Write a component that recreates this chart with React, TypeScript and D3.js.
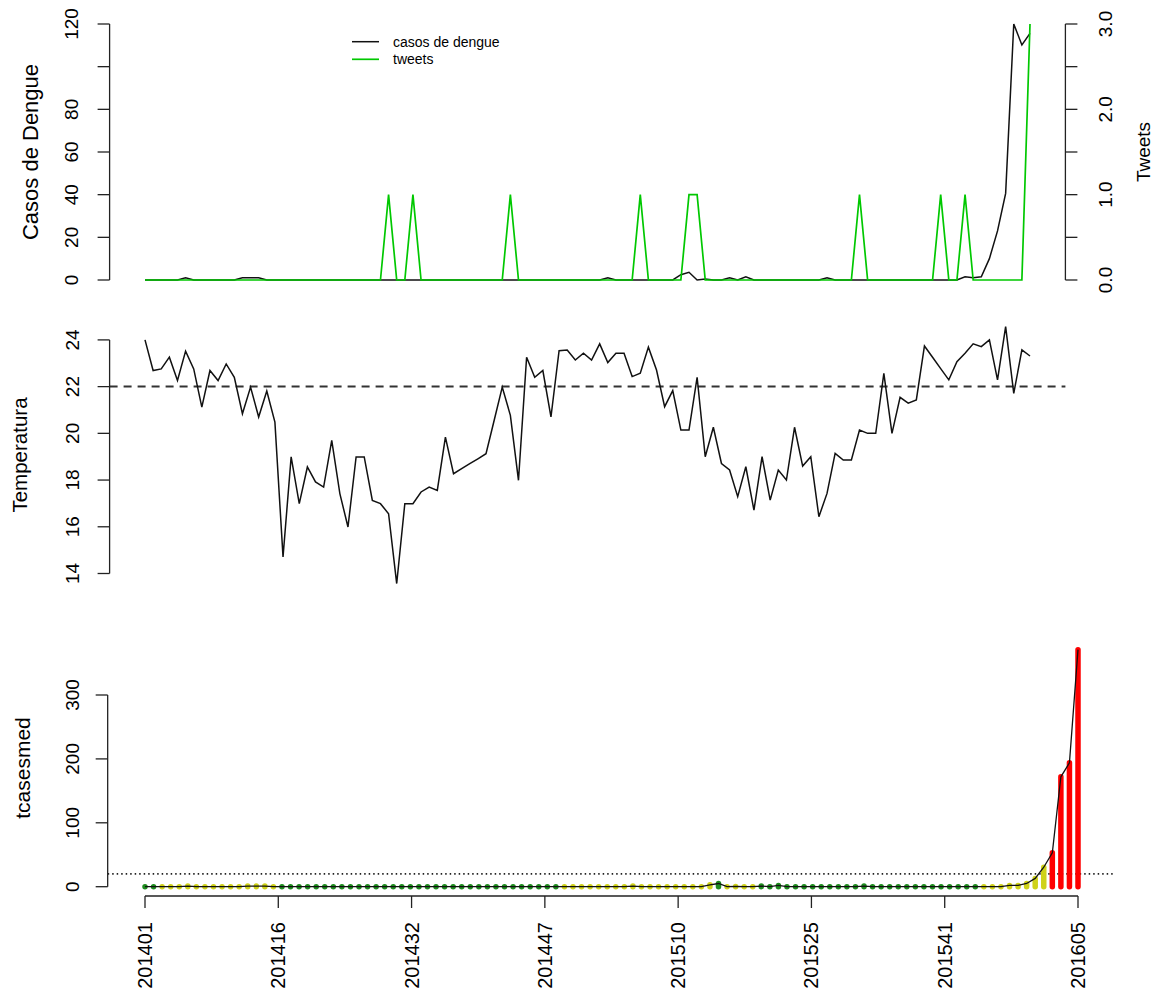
import React from "react";
import * as d3 from "d3";

// ---------- data ----------
const weekTickLabels = ["201401", "201416", "201432", "201447", "201510", "201525", "201541", "201605"];

const casosDengue = [
  0, 0, 0, 0, 0, 1, 0, 0, 0, 0,
  0, 0, 1, 1, 1, 0, 0, 0, 0, 0,
  0, 0, 0, 0, 0, 0, 0, 0, 0, 0,
  0, 0, 0, 0, 0, 0, 0, 0, 0, 0,
  0, 0, 0, 0, 0, 0, 0, 0, 0, 0,
  0, 0, 0, 0, 0, 0, 0, 1, 0, 0,
  0, 0, 0, 0, 0, 0, 2.5, 3.6, 0, 0.5,
  0, 0, 1, 0, 1.5, 0, 0, 0, 0, 0,
  0, 0, 0, 0, 1, 0, 0, 0, 0, 0,
  0, 0, 0, 0, 0, 0, 0, 0, 0, 0,
  0, 1.5, 1, 1.5, 10, 23, 40.6, 120, 110.2, 115.6,
];

const tweets = [
  0, 0, 0, 0, 0, 0, 0, 0, 0, 0,
  0, 0, 0, 0, 0, 0, 0, 0, 0, 0,
  0, 0, 0, 0, 0, 0, 0, 0, 0, 0,
  1, 0, 0, 1, 0, 0, 0, 0, 0, 0,
  0, 0, 0, 0, 0, 1, 0, 0, 0, 0,
  0, 0, 0, 0, 0, 0, 0, 0, 0, 0,
  0, 1, 0, 0, 0, 0, 0, 1, 1, 0,
  0, 0, 0, 0, 0, 0, 0, 0, 0, 0,
  0, 0, 0, 0, 0, 0, 0, 0, 1, 0,
  0, 0, 0, 0, 0, 0, 0, 0, 1, 0,
  0, 1, 0, 0, 0, 0, 0, 0, 0, 3,
];

const temperatura = [
  24.0, 22.69, 22.76, 23.26, 22.26, 23.52, 22.76, 21.12, 22.69, 22.26,
  22.97, 22.4, 20.84, 21.98, 20.7, 21.81, 20.48, 14.71, 18.99, 16.99,
  18.56, 17.92, 17.7, 19.7, 17.42, 15.99, 18.99, 18.99, 17.13, 16.99,
  16.56, 13.57, 16.99, 16.99, 17.49, 17.7, 17.56, 19.84, 18.27, 18.49,
  18.7, 18.91, 19.13, 20.55, 21.98, 20.77, 17.99, 23.26, 22.4, 22.69,
  20.7, 23.54, 23.57, 23.14, 23.43, 23.14, 23.83, 23.03, 23.43, 23.43,
  22.43, 22.57, 23.69, 22.71, 21.14, 21.83, 20.14, 20.14, 22.4, 19.0,
  20.26, 18.71, 18.43, 17.29, 18.57, 16.71, 19.0, 17.14, 18.43, 18.0,
  20.26, 18.6, 19.0, 16.43, 17.43, 19.14, 18.86, 18.86, 20.14, 20.0,
  20.0, 22.57, 20.0, 21.54, 21.29, 21.43, 23.74, 23.26, 22.77, 22.29,
  23.07, 23.43, 23.83, 23.71, 24.0, 22.29, 24.57, 21.71, 23.57, 23.31,
];

const tcasesmed = [
  0, 0, 0, 0, 0, 1, 0, 0, 0, 0,
  0, 0, 1, 1, 1, 0, 0, 0, 0, 0,
  0, 0, 0, 0, 0, 0, 0, 0, 0, 0,
  0, 0, 0, 0, 0, 0, 0, 0, 0, 0,
  0, 0, 0, 0, 0, 0, 0, 0, 0, 0,
  0, 0, 0, 0, 0, 0, 0, 1, 0, 0,
  0, 0, 0, 0, 0, 0, 3, 5, 0, 0.5,
  0, 0, 1, 0, 2, 0, 0, 0, 0, 0,
  0, 0, 0, 0, 1, 0, 0, 0, 0, 0,
  0, 0, 0, 0, 0, 0, 0, 0, 0, 0,
  0, 2, 2, 5, 13, 30.5, 53, 172, 194, 371,
];

// alert level per week: 1 = green, 2 = yellow, 4 = red
const alertLevel = [
  1, 1, 2, 2, 2, 2, 2, 2, 2, 2,
  2, 2, 2, 2, 2, 2, 1, 1, 1, 1,
  1, 1, 1, 1, 1, 1, 1, 1, 1, 1,
  1, 1, 1, 1, 1, 1, 1, 1, 1, 1,
  1, 1, 1, 1, 1, 1, 1, 1, 1, 2,
  2, 2, 2, 2, 2, 2, 2, 2, 2, 2,
  2, 2, 2, 2, 2, 2, 2, 1, 2, 2,
  2, 2, 1, 1, 1, 1, 1, 1, 1, 1,
  1, 1, 1, 1, 1, 1, 1, 1, 1, 1,
  1, 1, 1, 1, 1, 1, 1, 1, 2, 2,
  2, 2, 2, 2, 2, 2, 4, 4, 4, 4,
];

const casesTicks = [0, 20, 40, 60, 80, 100, 120];
const casesTickLabels = ["0", "20", "40", "60", "80", "", "120"];
const tweetTicks = [0, 0.5, 1, 1.5, 2, 2.5, 3];
const tweetTickLabels = ["0.0", "", "1.0", "", "2.0", "", "3.0"];
const tempTicks = [14, 16, 18, 20, 22, 24];
const tcasesTicks = [0, 100, 200, 300];
const tempReference = 22;
const alertThreshold = 20;

const alertColors: Record<number, string> = { 1: "#1E8C1E", 2: "#CFD21A", 4: "#FF0000" };
const tweetColor = "#00C800";

// ---------- layout ----------
const W = 1154;
const H = 996;
const FONT = "'Liberation Sans', Arial, Helvetica, sans-serif";
const FS = 19;
const TICK = 12;

export default function App() {
  const N = casosDengue.length;
  const ids = d3.range(N);

  const xTop = d3.scaleLinear().domain([0, N - 1]).range([145, 1030]);
  const xBot = d3.scaleLinear().domain([0, N - 1]).range([145, 1078]);
  const topLeft = xTop(-0.04 * (N - 1));
  const topRight = xTop((N - 1) * 1.04);
  const botLeft = xBot(-0.04 * (N - 1));
  const botRight = xBot((N - 1) * 1.04);

  const yCases = d3.scaleLinear().domain([0, 120]).range([280, 24]);
  const yTweets = d3.scaleLinear().domain([0, 3]).range([280, 24]);
  const yTemp = d3.scaleLinear().domain([14, 24]).range([573.5, 339.9]);
  const yBot = d3.scaleLinear().domain([0, 300]).range([886.7, 695]);

  const lineCases = d3.line<number>().x((_, i) => xTop(i)).y((d) => yCases(d));
  const lineTweets = d3.line<number>().x((_, i) => xTop(i)).y((d) => yTweets(d));
  const lineTemp = d3.line<number>().x((_, i) => xTop(i)).y((d) => yTemp(d));
  const lineBot = d3.line<number>().x((_, i) => xBot(i)).y((d) => yBot(d));

  const axisStroke = "#222";
  const axisW = 1.3;

  const leftAxis = (
    x: number,
    scale: d3.ScaleLinear<number, number>,
    ticks: number[],
    labels: string[],
    labelBaseline: number
  ) => (
    <g>
      <line x1={x} x2={x} y1={scale(ticks[0])} y2={scale(ticks[ticks.length - 1])} stroke={axisStroke} strokeWidth={axisW} />
      {ticks.map((t, i) => (
        <g key={i}>
          <line x1={x - TICK} x2={x} y1={scale(t)} y2={scale(t)} stroke={axisStroke} strokeWidth={axisW} />
          {labels[i] !== "" && (
            <text
              transform={`translate(${labelBaseline},${scale(t)}) rotate(-90)`}
              textAnchor="middle"
              fontSize={FS}
              fontFamily={FONT}
              fill="#000"
            >
              {labels[i]}
            </text>
          )}
        </g>
      ))}
    </g>
  );

  const xTickPos = weekTickLabels.map((_, k) => (k * (N - 1)) / (weekTickLabels.length - 1));

  return (
    <svg width={W} height={H} style={{ position: "absolute", left: 0, top: 0, background: "#fff" }}>
      <rect x={0} y={0} width={W} height={H} fill="#fff" />

      {/* ---------- top panel ---------- */}
      <path d={lineCases(casosDengue) || ""} fill="none" stroke="#111" strokeWidth={1.5} />
      <path d={lineTweets(tweets) || ""} fill="none" stroke={tweetColor} strokeWidth={1.7} />
      {leftAxis(topLeft, yCases, casesTicks, casesTickLabels, 78)}
      <text transform={`translate(38,152) rotate(-90)`} textAnchor="middle" fontSize={22} fontFamily={FONT}>
        Casos de Dengue
      </text>
      {/* right axis */}
      <g>
        <line x1={topRight} x2={topRight} y1={yTweets(0)} y2={yTweets(3)} stroke={axisStroke} strokeWidth={axisW} />
        {tweetTicks.map((t, i) => (
          <g key={i}>
            <line x1={topRight} x2={topRight + TICK} y1={yTweets(t)} y2={yTweets(t)} stroke={axisStroke} strokeWidth={axisW} />
            {tweetTickLabels[i] !== "" && (
              <text
                transform={`translate(1112,${yTweets(t)}) rotate(-90)`}
                textAnchor="middle"
                fontSize={FS}
                fontFamily={FONT}
              >
                {tweetTickLabels[i]}
              </text>
            )}
          </g>
        ))}
        <text transform={`translate(1150,152) rotate(-90)`} textAnchor="middle" fontSize={FS} fontFamily={FONT}>
          Tweets
        </text>
      </g>
      {/* legend */}
      <g fontFamily={FONT} fontSize={14}>
        <line x1={352} x2={379} y1={41.7} y2={41.7} stroke="#111" strokeWidth={1.5} />
        <text x={393} y={41.7} dominantBaseline="central">casos de dengue</text>
        <line x1={352} x2={379} y1={59.3} y2={59.3} stroke={tweetColor} strokeWidth={1.7} />
        <text x={393} y={59.3} dominantBaseline="central">tweets</text>
      </g>

      {/* ---------- middle panel ---------- */}
      <line
        x1={topLeft}
        x2={topRight}
        y1={yTemp(tempReference)}
        y2={yTemp(tempReference)}
        stroke="#333"
        strokeWidth={2}
        strokeDasharray="8,6"
      />
      <path d={lineTemp(temperatura) || ""} fill="none" stroke="#111" strokeWidth={1.5} />
      {leftAxis(topLeft, yTemp, tempTicks, tempTicks.map(String), 79)}
      <text transform={`translate(27,455) rotate(-90)`} textAnchor="middle" fontSize={20.5} fontFamily={FONT}>
        Temperatura
      </text>

      {/* ---------- bottom panel ---------- */}
      <line
        x1={botLeft}
        x2={botRight}
        y1={yBot(alertThreshold)}
        y2={yBot(alertThreshold)}
        stroke="#222"
        strokeWidth={1.6}
        strokeDasharray="1.5,3"
      />
      {ids.map((i) => (
        <line
          key={i}
          x1={xBot(i)}
          x2={xBot(i)}
          y1={yBot(0)}
          y2={yBot(tcasesmed[i])}
          stroke={alertColors[alertLevel[i]]}
          strokeWidth={5.5}
          strokeLinecap="round"
        />
      ))}
      <path d={lineBot(tcasesmed) || ""} fill="none" stroke="#111" strokeWidth={1.3} />
      {leftAxis(botLeft, yBot, tcasesTicks, tcasesTicks.map(String), 79)}
      <text transform={`translate(29.5,768) rotate(-90)`} textAnchor="middle" fontSize={21} fontFamily={FONT}>
        tcasesmed
      </text>
      {/* x axis */}
      <g>
        <line x1={xBot(0)} x2={xBot(N - 1)} y1={896} y2={896} stroke={axisStroke} strokeWidth={axisW} />
        {xTickPos.map((p, k) => (
          <g key={k}>
            <line x1={xBot(p)} x2={xBot(p)} y1={896} y2={896 + TICK} stroke={axisStroke} strokeWidth={axisW} />
            <text
              transform={`translate(${xBot(p) + 7},922) rotate(-90)`}
              textAnchor="end"
              fontSize={20}
              fontFamily={FONT}
            >
              {weekTickLabels[k]}
            </text>
          </g>
        ))}
      </g>
    </svg>
  );
}
